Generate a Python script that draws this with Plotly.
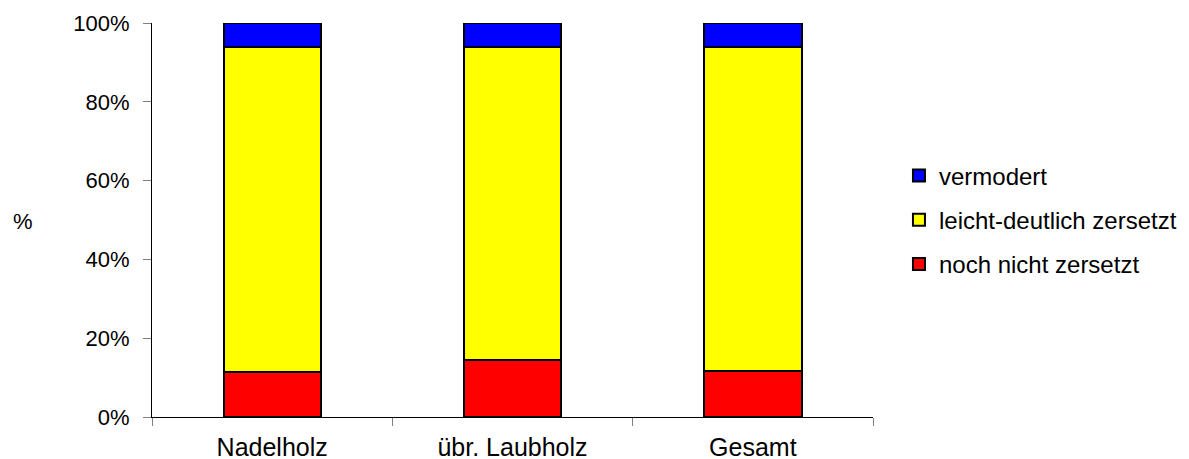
import plotly.graph_objects as go

# data (percent shares)
categories = ["Nadelholz", "übr. Laubholz", "Gesamt"]
noch_nicht = [11.4, 14.5, 11.6]
leicht_deutlich = [82.4, 79.4, 82.2]
vermodert = [6.2, 6.1, 6.2]
y_ticks = [0, 20, 40, 60, 80, 100]
y_ticktext = [f"{v}%" for v in y_ticks]

# stacked bottom -> top; legendrank puts the top segment first in the legend
series = [
    ("noch nicht zersetzt", noch_nicht, "#FF0000", 3),
    ("leicht-deutlich zersetzt", leicht_deutlich, "#FFFF00", 2),
    ("vermodert", vermodert, "#0000FF", 1),
]

FONT = "Liberation Sans, Arial, sans-serif"

fig = go.Figure()
for name, vals, color, rank in series:
    fig.add_trace(go.Bar(
        x=categories,
        y=vals,
        name=name,
        legendgroup=name,
        legendrank=rank,
        width=0.405,
        marker=dict(color=color, line=dict(color="black", width=2)),
    ))

# the page body adds an 8px offset, margins compensate for it
fig.update_layout(
    barmode="stack",
    width=1189,
    height=459,
    margin=dict(l=144, r=324, t=15, b=50, autoexpand=False),
    paper_bgcolor="white",
    plot_bgcolor="white",
    font=dict(family=FONT, size=22, color="black"),
    bargap=0,
    showlegend=True,
    legend=dict(
        xanchor="left", yanchor="middle", x=1.036, y=0.5,
        traceorder="grouped", tracegroupgap=10,
        font=dict(family=FONT, size=24, color="black"),
        bgcolor="rgba(0,0,0,0)", borderwidth=0,
    ),
    xaxis=dict(
        range=[-0.5, 2.5],
        showline=True, linecolor="black", linewidth=1,
        ticks="outside", tickson="boundaries", ticklen=8,
        tickcolor="#808080", tickwidth=1,
        showgrid=False, zeroline=False,
        tickfont=dict(size=25),
        ticklabelstandoff=8,
    ),
    yaxis=dict(
        range=[0, 100],
        tickmode="array",
        tickvals=y_ticks,
        ticktext=y_ticktext,
        showline=True, linecolor="black", linewidth=1,
        ticks="outside", ticklen=8,
        tickcolor="#808080", tickwidth=1,
        showgrid=False, zeroline=False,
        ticklabelstandoff=9,
    ),
    annotations=[dict(
        text="%", xref="paper", yref="paper", x=-0.179, y=0.497,
        xanchor="center", yanchor="middle", showarrow=False,
        font=dict(family=FONT, size=22, color="black"),
    )],
)

fig.write_html("out.html")
